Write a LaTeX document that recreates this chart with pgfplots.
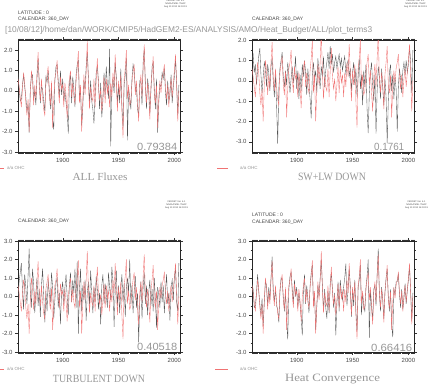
\documentclass[border=0pt]{standalone}
\usepackage{fontspec}
\setmainfont{Liberation Sans}
\newfontfamily\seriffont{Liberation Serif}
\usepackage{graphicx}
\usepackage{pgfplots}
\usepackage{pgfplotstable}
\pgfplotsset{compat=1.18}
\definecolor{ohc}{RGB}{240,115,115}
\definecolor{blk}{RGB}{85,85,85}
\definecolor{lab}{RGB}{150,150,150}
\definecolor{txt}{RGB}{70,70,70}

\pgfplotstableread{
year ohc b1 b2 b3 b4
1860 0.6 0.9 1.0 -0.2 0.7
1861 0.2 0.1 1.3 0.8 0.4
1862 -0.3 -0.5 0.4 1.3 -0.6
1863 -0.8 -0.4 0.8 1.8 -0.5
1864 0.1 0.3 -0.2 0.4 0.2
1865 0.9 0.8 0.5 -0.7 1.2
1866 0.4 0.2 1.2 1.2 0.3
1867 -0.6 -0.3 1.6 0.5 -0.4
1868 -1.2 -1.0 0.3 -0.4 -1.0
1869 -0.4 -0.7 -0.6 1.1 -0.1
1870 -2.0 -2.05 0.2 2.59 -1.6
1871 -0.2 0.1 0.9 0.3 -0.3
1872 1.0 0.7 0.6 -0.6 0.8
1873 0.5 0.8 -0.3 1.5 0.6
1874 -0.7 -0.4 0.8 0.7 -0.5
1875 0.3 0.0 0.4 -0.9 0.5
1876 -0.4 -0.7 -0.5 0.2 -0.2
1877 0.9 0.6 0.7 1.0 1.0
1878 1.9 1.6 1.1 -0.5 2.16
1879 0.2 0.5 0.0 0.4 0.4
1880 -0.5 -0.6 -0.8 -1.1 -0.3
1881 0.6 0.2 0.3 0.6 0.4
1882 -0.3 0.1 -1.2 1.5 -0.5
1883 -0.9 -0.5 -3.1 0.1 -0.7
1884 -1.2 -1.0 -0.4 -1.4 -1.4
1885 0.4 0.7 0.6 0.3 0.2
1886 0.8 0.4 1.0 -0.8 1.0
1887 1.2 1.0 1.4 0.9 0.9
1888 -0.2 0.1 0.2 0.2 0.0
1889 -0.7 -0.9 -0.3 -0.3 -0.8
1890 0.5 0.2 0.5 1.3 0.3
1891 -1.8 -1.4 -0.2 0.5 -1.3
1892 -0.4 -1.9 0.9 -1.2 -2.32
1893 0.6 0.5 0.3 -0.2 0.4
1894 0.9 1.2 -0.6 0.7 1.1
1895 1.5 1.3 0.1 1.0 1.3
1896 0.2 0.5 0.7 -0.6 0.4
1897 -0.6 -0.3 -0.1 0.2 -0.4
1898 0.7 1.0 0.4 -1.5 0.9
1899 0.1 -0.2 1.2 0.3 0.0
1900 0.3 0.6 -0.4 0.8 0.5
1901 -0.8 -0.5 0.5 -0.4 -0.6
1902 0.4 0.0 -0.9 0.5 0.2
1903 -0.2 -0.6 0.3 1.2 -0.4
1904 -1.35 -1.0 -0.5 0.0 -1.1
1905 0.0 -2.1 0.8 -1.0 -2.1
1906 0.6 0.4 0.2 0.6 0.3
1907 1.0 0.8 1.0 1.3 1.2
1908 -0.3 -0.6 0.4 -0.3 -0.4
1909 0.4 0.7 -0.7 0.9 0.6
1910 -0.3 0.1 0.6 0.2 -0.1
1911 -0.6 -0.8 -0.2 1.5 -0.9
1912 0.5 0.8 -0.9 -0.6 0.6
1913 1.1 1.3 -1.85 1.9 1.3
1914 1.95 1.5 0.3 -2.0 1.7
1915 -0.6 -0.3 0.9 0.4 -0.4
1916 0.3 0.0 0.1 1.5 0.1
1917 -2.0 -1.7 0.5 -0.8 -1.8
1918 -0.4 -0.8 -0.6 0.6 -0.6
1919 0.8 0.5 1.1 -0.2 0.6
1920 -0.2 0.1 0.3 0.9 0.0
1921 0.9 1.2 -0.4 -1.3 1.0
1922 2.45 1.9 0.7 0.2 2.0
1923 0.4 0.7 0.2 0.8 0.6
1924 -0.9 -0.6 1.2 -0.5 -0.8
1925 0.2 0.5 -0.3 1.4 0.4
1926 -0.3 -0.5 0.5 0.3 -0.6
1927 -0.5 -0.9 0.9 -0.9 -1.2
1928 0.6 -1.6 1.4 0.5 0.3
1929 -0.8 -0.2 0.6 -0.3 -0.9
1930 0.5 0.9 1.7 1.1 0.7
1931 1.6 1.2 0.8 0.4 1.3
1932 0.2 0.5 1.3 -0.7 0.4
1933 -0.4 -0.9 0.4 0.2 -0.6
1934 0.1 0.4 0.9 -1.5 0.2
1935 -1.0 -1.3 1.2 0.6 -2.1
1936 -0.2 -0.5 0.6 1.2 -0.4
1937 0.7 0.9 1.0 -0.4 0.8
1938 -0.6 -0.2 1.3 0.7 -0.8
1939 0.6 1.2 0.7 0.1 0.9
1940 -0.1 0.3 1.1 -0.6 0.2
1941 0.3 -0.4 0.5 1.3 -0.2
1942 -0.8 2.07 0.9 0.5 0.5
1943 0.4 -2.72 1.2 -0.2 1.0
1944 -0.3 0.2 0.3 1.6 1.78
1945 0.9 0.6 0.8 0.8 -0.5
1946 0.2 -0.1 1.0 -1.64 0.4
1947 1.8 1.4 0.2 0.3 1.5
1948 0.3 0.7 0.6 1.4 0.6
1949 -1.0 -0.6 -0.5 -0.5 -1.1
1950 0.5 0.2 0.4 0.6 0.4
1951 -0.2 -0.6 0.9 -0.9 -0.5
1952 0.8 1.1 -0.2 0.4 0.9
1953 -1.0 -0.7 0.6 1.2 -0.8
1954 -2.3 -1.8 -0.8 -0.3 -1.9
1955 0.6 0.3 0.2 0.7 0.5
1956 1.1 0.8 1.1 -1.1 0.9
1957 2.0 1.6 -0.4 0.5 1.7
1958 -0.4 -2.43 0.3 1.0 -1.0
1959 0.3 0.1 -1.2 0.2 0.2
1960 -0.7 -0.3 0.5 2.0 -0.5
1961 -0.5 -0.9 -0.3 -0.4 -0.8
1962 0.4 0.6 0.8 0.6 0.5
1963 0.9 1.3 -1.4 -0.9 1.1
1964 1.3 1.0 -2.57 0.3 2.0
1965 -0.2 0.1 -0.6 1.1 -2.23
1966 0.5 0.2 0.4 -0.6 0.3
1967 -0.6 -0.9 0.9 0.2 -0.5
1968 -1.5 -1.2 -0.2 -2.48 -1.3
1969 0.2 0.5 -1.0 -0.3 0.4
1970 0.8 0.4 0.3 0.8 0.6
1971 -0.3 -0.7 -2.6 -1.2 -0.5
1972 1.1 1.4 -0.5 0.5 1.2
1973 2.28 2.05 0.7 1.3 2.59
1974 0.1 0.4 0.2 -0.4 0.2
1975 -0.6 -0.9 -0.9 0.6 -0.8
1976 0.4 0.6 0.6 -1.0 0.5
1977 -0.2 0.1 -0.3 0.2 -0.1
1978 -1.4 -1.1 -1.2 0.9 -1.2
1979 0.3 0.0 0.1 -0.5 0.2
1980 0.9 1.2 -0.8 0.4 1.0
1981 1.7 1.4 -3.07 -0.8 1.5
1982 -0.2 0.1 -1.0 1.0 0.0
1983 -0.6 -0.9 0.4 -0.2 -0.8
1984 0.3 0.6 0.8 -1.7 0.4
1985 -1.8 -2.05 -0.5 0.5 -1.5
1986 -0.3 -0.6 0.3 0.1 -2.2
1987 0.5 0.3 -0.9 -0.6 0.4
1988 -0.1 0.2 0.2 0.8 0.1
1989 0.6 0.9 -0.4 -0.3 0.8
1990 0.9 0.6 -2.5 0.6 0.8
1991 1.3 1.1 -0.3 -0.9 1.2
1992 0.2 -0.1 0.6 0.3 0.1
1993 -0.4 -0.7 0.1 1.2 -0.6
1994 0.3 0.5 -0.6 -0.4 0.4
1995 -0.8 -0.5 0.5 0.2 -0.7
1996 0.1 -0.2 0.9 -1.3 -0.1
1997 0.6 0.8 0.3 0.5 0.7
1998 -0.3 -0.6 1.0 0.9 -0.4
1999 0.4 0.2 0.4 -0.2 0.3
2000 1.0 0.7 0.8 1.1 0.9
2001 1.8 1.6 1.7 1.5 1.6
2002 0.2 0.4 0.9 -0.3 0.3
2003 -1.5 -1.2 -0.6 -0.8 -1.3
2004 0.0 0.3 1.5 1.8 0.2
}\datatable

\pgfplotsset{
  ferret/.style={
    scale only axis, anchor=south west, width=162pt,
    xmin=1860, xmax=2005,
    xtick={1900,1950,2000}, xticklabels={1900,1950,2000},
    minor xtick={1860,1861,...,2005},
    minor y tick num=1,
    tick align=outside,
    major tick length=3pt, minor tick length=1.5pt,
    every tick/.append style={black!80, line width=0.3pt},
    axis line style={black!85, line width=0.5pt},
    tick label style={font=\fontsize{6}{7}\selectfont, text=txt},
    yticklabel style={xshift=1pt},
    clip=true,
  },
}
\tikzset{
  blkline/.style={blk, line width=0.35pt},
  ohcline/.style={ohc, line width=0.35pt},
}

\newcommand{\hdr}{\fontsize{5}{6}\selectfont}
\newcommand{\ferr}{\fontsize{2.3}{2.6}\selectfont}

\begin{document}
\begin{tikzpicture}[x=1pt,y=1pt]
\useasboundingbox (0,0) rectangle (431,384);

% ---------- panel 1
\begin{axis}[ferret, at={(18pt,232pt)}, height=112pt, ymin=-3, ymax=2.5,
  ytick={-3,-2,-1,0,1,2}, yticklabels={-3.0,-2.0,-1.0,0.0,1.0,2.0}]
\addplot[blkline] table[x=year,y=b1]{\datatable};
\addplot[ohcline] table[x=year,y=ohc]{\datatable};
\end{axis}
% ---------- panel 2
\begin{axis}[ferret, at={(252pt,232pt)}, height=112pt, ymin=-3.5, ymax=2.0,
  ytick={-3,-2,-1,0,1,2}, yticklabels={-3.0,-2.0,-1.0,0.0,1.0,2.0}]
\addplot[blkline] table[x=year,y=b2]{\datatable};
\addplot[ohcline] table[x=year,y=ohc]{\datatable};
\end{axis}
% ---------- panel 3
\begin{axis}[ferret, at={(18pt,32pt)}, height=111pt, ymin=-3, ymax=3,
  ytick={-3,-2,-1,0,1,2,3}, yticklabels={-3.0,-2.0,-1.0,0.0,1.0,2.0,3.0}]
\addplot[blkline] table[x=year,y=b3]{\datatable};
\addplot[ohcline] table[x=year,y=ohc]{\datatable};
\end{axis}
% ---------- panel 4
\begin{axis}[ferret, at={(252pt,32pt)}, height=111pt, ymin=-3, ymax=3,
  ytick={-3,-2,-1,0,1,2,3}, yticklabels={-3.0,-2.0,-1.0,0.0,1.0,2.0,3.0}]
\addplot[blkline] table[x=year,y=b4]{\datatable};
\addplot[ohcline] table[x=year,y=ohc]{\datatable};
\end{axis}

% header texts
\node[anchor=base west, inner sep=0, text=txt, font=\hdr] at (18,369.5) {LATITUDE : 0};
\node[anchor=base west, inner sep=0, text=txt, font=\hdr] at (18,363) {CALENDAR: 360\_DAY};
\node[anchor=base west, inner sep=0, text=txt, font=\hdr] at (252,363) {CALENDAR: 360\_DAY};
\node[anchor=base west, inner sep=0, text=txt, font=\hdr] at (18,161.5) {CALENDAR: 360\_DAY};
\node[anchor=base west, inner sep=0, text=txt, font=\hdr] at (252,168) {LATITUDE : 0};
\node[anchor=base west, inner sep=0, text=txt, font=\hdr] at (252,161) {CALENDAR: 360\_DAY};

\node[anchor=west, inner sep=0, text=lab] at (5,353.3)
  {\resizebox{367pt}{!}{\fontsize{8}{9}\selectfont [10/08/12]/home/dan/WORK/CMIP5/HadGEM2-ES/ANALYSIS/AMO/Heat\_Budget/ALL/plot\_terms3}};

% ferret stamps
\foreach \px/\py in {187/384, 427/384, 188/183, 428/183}{
  \node[anchor=north east, inner sep=0, align=center, text=txt, font=\ferr] at (\px,\py)
    {FERRET Ver. 6.1\\NOAA/PMEL TMAP\\Aug 10 2012 16:03:03};
}

% correlation values
\node[anchor=base west, inner sep=0, text=lab] at (137,234) {\resizebox{40pt}{7.3pt}{0.79384}};
\node[anchor=base west, inner sep=0, text=lab] at (374,234) {\resizebox{30pt}{7.3pt}{0.1761}};
\node[anchor=base west, inner sep=0, text=lab] at (137,33.3) {\resizebox{40pt}{7.3pt}{0.40518}};
\node[anchor=base west, inner sep=0, text=lab] at (371,32.7) {\resizebox{41pt}{7.3pt}{0.66416}};

% legends
\draw[ohcline] (0,216) -- (4,216);
\node[anchor=west, inner sep=0, text=lab, font=\fontsize{4.5}{5}\selectfont] at (7,216) {a/a OHC};
\draw[ohcline] (217,216) -- (228,216);
\node[anchor=west, inner sep=0, text=lab, font=\fontsize{4.5}{5}\selectfont] at (240,216) {a/a OHC};
\draw[ohcline] (0,15) -- (4,15);
\node[anchor=west, inner sep=0, text=lab, font=\fontsize{4.5}{5}\selectfont] at (7,15) {a/a OHC};
\draw[ohcline] (215,15) -- (228,15);
\node[anchor=west, inner sep=0, text=lab, font=\fontsize{4.5}{5}\selectfont] at (240,15) {a/a OHC};

% titles
\node[anchor=base, inner sep=0, text=lab] at (100,203.5) {\resizebox{55pt}{7.5pt}{\seriffont ALL Fluxes}};
\node[anchor=base, inner sep=0, text=lab] at (332,204) {\resizebox{68pt}{7.4pt}{\seriffont SW+LW DOWN}};
\node[anchor=base, inner sep=0, text=lab] at (99,2) {\resizebox{92pt}{7.3pt}{\seriffont TURBULENT DOWN}};
\node[anchor=base, inner sep=0, text=lab] at (332.5,2.3) {\resizebox{95pt}{7.4pt}{\seriffont Heat Convergence}};

\end{tikzpicture}
\end{document}
